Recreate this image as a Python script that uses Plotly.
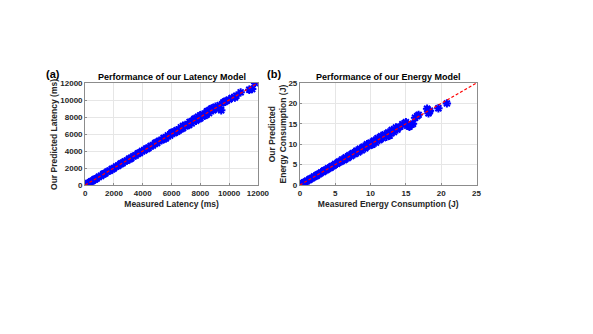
import plotly.graph_objects as go
from plotly.subplots import make_subplots

# Latency model: measured vs predicted (ms)
lat_measured = [30, 100, 200, 300, 400, 500, 650, 800, 950, 1100, 1250, 1400, 1550, 1700,
                1850, 2000, 2150, 2300, 2450, 2600, 2750, 2900, 3050, 3200, 3350, 3500,
                3650, 3800, 3950, 4100, 4250, 4400, 4550, 4700, 4850, 5000, 5150, 5300,
                5450, 5600, 5750, 5900, 6050, 6200, 6350, 6500, 6650, 6800, 6950, 7100,
                7250, 7400, 7550, 7700, 7850, 8000, 8150, 8300, 8450, 8600, 8750, 8900,
                9050, 9200, 9350, 9450, 9600, 9800, 10000, 10200, 10500, 10800, 11400,
                11600, 11800, 5600, 6000, 6400, 6800, 7200, 7600, 8000, 8400, 8800,
                700, 1300, 1900, 2500, 3100, 3700, 4300, 4900, 5500, 6100, 6700, 7300,
                7900, 8500, 9100, 9700, 10400]
lat_predicted = [60, 120, 230, 280, 420, 480, 680, 770, 990, 1070, 1280, 1370, 1590, 1670,
                 1890, 1970, 2190, 2270, 2490, 2570, 2790, 2870, 3100, 3160, 3400, 3460,
                 3700, 3760, 4000, 4060, 4300, 4350, 4600, 4650, 4900, 4950, 5220, 5250,
                 5530, 5540, 5850, 5820, 6150, 6120, 6450, 6420, 6780, 6700, 7080, 7000,
                 7400, 7250, 7700, 7550, 8050, 7850, 8300, 8150, 8650, 8450, 8950, 8800,
                 9200, 9150, 9400, 8800, 9700, 9900, 10050, 10250, 10500, 10900, 11200,
                 11300, 12000, 5500, 6150, 6300, 6950, 7050, 7800, 8200, 8250, 9000,
                 680, 1330, 1870, 2540, 3060, 3750, 4250, 4970, 5450, 6200, 6620, 7420,
                 7800, 8700, 9000, 9800, 10300]

# Energy model: measured vs predicted (J)
en_measured = [0.1, 0.3, 0.5, 0.75, 1.0, 1.25, 1.5, 1.75, 2.0, 2.25, 2.5, 2.75, 3.0, 3.25,
               3.5, 3.75, 4.0, 4.25, 4.5, 4.75, 5.0, 5.25, 5.5, 5.75, 6.0, 6.25, 6.5, 6.75,
               7.0, 7.25, 7.5, 7.75, 8.0, 8.25, 8.5, 8.75, 9.0, 9.25, 9.5, 9.75, 10.0,
               10.25, 10.5, 10.75, 11.0, 11.25, 11.5, 11.75, 12.0, 12.25, 12.5, 12.7, 13.0,
               13.3, 13.6, 13.8, 14.2, 14.5, 15.0, 15.2, 15.5, 15.8, 16.3, 16.6, 16.8,
               18.0, 18.2, 18.4, 19.6, 20.8, 0.6, 1.4, 2.4, 3.4, 4.4, 5.4, 6.4, 7.4, 8.4,
               9.4, 10.4, 11.4, 12.4, 15.3, 16.0, 18.3]
en_predicted = [0.1, 0.35, 0.5, 0.7, 1.05, 1.2, 1.55, 1.7, 2.1, 2.2, 2.6, 2.7, 3.1, 3.2,
                3.6, 3.7, 4.15, 4.2, 4.65, 4.7, 5.2, 5.2, 5.7, 5.7, 6.3, 6.15, 6.8, 6.6,
                7.3, 7.1, 7.8, 7.6, 8.4, 8.0, 8.9, 8.5, 9.4, 9.0, 10.0, 9.6, 10.4, 9.9,
                10.9, 10.4, 11.5, 11.0, 12.0, 11.5, 12.4, 11.8, 12.9, 12.1, 13.5, 13.0,
                14.1, 13.6, 14.3, 14.9, 15.4, 14.5, 14.3, 14.8, 16.5, 16.9, 17.2, 18.7,
                17.6, 18.2, 18.8, 20.0, 0.65, 1.45, 2.35, 3.5, 4.35, 5.5, 6.4, 7.6, 8.5,
                9.6, 10.6, 11.6, 12.3, 14.8, 15.0, 18.0]

lat_ideal = [0, 12000]
en_ideal = [0, 25]

lat_ticks = [0, 2000, 4000, 6000, 8000, 10000, 12000]
en_ticks = [0, 5, 10, 15, 20, 25]

FONT = "Liberation Sans, Arial, sans-serif"
INK = "#262626"
# the page body adds an 8px margin, so positions are measured from there
OFF = 8
W, H = 593 - OFF, 334 - OFF


def px_x(p):
    return (p - OFF) / W


def px_y(p):
    return 1 - (p - OFF) / H


fig = make_subplots(rows=1, cols=2)

marker = dict(symbol="asterisk-open", size=7, color="blue",
              line=dict(color="blue", width=2))
ideal_line = dict(color="red", width=1.2, dash="3px,2px")

fig.add_trace(go.Scatter(x=lat_measured, y=lat_predicted, mode="markers",
                         marker=marker, showlegend=False), row=1, col=1)
fig.add_trace(go.Scatter(x=lat_ideal, y=lat_ideal, mode="lines",
                         line=ideal_line, showlegend=False), row=1, col=1)
fig.add_trace(go.Scatter(x=en_measured, y=en_predicted, mode="markers",
                         marker=marker, showlegend=False), row=1, col=2)
fig.add_trace(go.Scatter(x=en_ideal, y=en_ideal, mode="lines",
                         line=ideal_line, showlegend=False), row=1, col=2)

axis_style = dict(showline=True, mirror=True, linecolor="#8c8c8c", linewidth=1,
                  showgrid=True, gridcolor="#e6e6e6", gridwidth=1, zeroline=False,
                  ticks="inside", ticklen=2, tickcolor="#8c8c8c", tickformat="d",
                  tickfont=dict(family=FONT, size=8, color=INK, weight="bold"))
title_font = dict(family=FONT, size=8.5, color=INK, weight="bold")

y0, y1 = px_y(186), px_y(81)
fig.update_xaxes(axis_style)
fig.update_yaxes(axis_style)
fig.update_xaxes(domain=[px_x(85), px_x(262)], range=[0, 12000], tickvals=lat_ticks,
                 title=dict(text="Measured Latency (ms)", font=title_font, standoff=4),
                 row=1, col=1)
fig.update_yaxes(domain=[y0, y1], range=[0, 12000], tickvals=lat_ticks, row=1, col=1)
fig.update_xaxes(domain=[px_x(305), px_x(486)], range=[0, 25], tickvals=en_ticks,
                 title=dict(text="Measured Energy Consumption (J)", font=title_font, standoff=4),
                 row=1, col=2)
fig.update_yaxes(domain=[y0, y1], range=[0, 25], tickvals=en_ticks, row=1, col=2)

# y-axis titles placed by hand
fig.add_annotation(text="Our Predicted Latency (ms)", x=px_x(53), y=px_y(133.5),
                   xref="paper", yref="paper", textangle=-90, showarrow=False,
                   xanchor="center", yanchor="middle", font=title_font)
fig.add_annotation(text="Our Predicted<br>Energy Consumption (J)", x=px_x(282),
                   y=px_y(133.5), xref="paper", yref="paper", textangle=-90,
                   showarrow=False, xanchor="center", yanchor="middle", font=title_font)

head_font = dict(family=FONT, size=9, color="black", weight="bold")
fig.add_annotation(text="Performance of our Latency Model", x=px_x((85 + 262) / 2),
                   y=px_y(75), xref="paper", yref="paper", showarrow=False,
                   xanchor="center", yanchor="middle", font=head_font)
fig.add_annotation(text="Performance of our Energy Model", x=px_x((305 + 486) / 2),
                   y=px_y(75), xref="paper", yref="paper", showarrow=False,
                   xanchor="center", yanchor="middle", font=head_font)
panel_font = dict(family=FONT, size=11, color="black", weight="bold")
fig.add_annotation(text="(a)", x=px_x(52), y=px_y(72), xref="paper", yref="paper",
                   xanchor="center", yanchor="middle", showarrow=False, font=panel_font)
fig.add_annotation(text="(b)", x=px_x(278), y=px_y(72), xref="paper", yref="paper",
                   xanchor="center", yanchor="middle", showarrow=False, font=panel_font)

fig.update_layout(width=W, height=H, margin=dict(l=0, r=0, t=0, b=0),
                  paper_bgcolor="white", plot_bgcolor="white",
                  font=dict(family=FONT, color=INK))

fig.write_html("out.html")
